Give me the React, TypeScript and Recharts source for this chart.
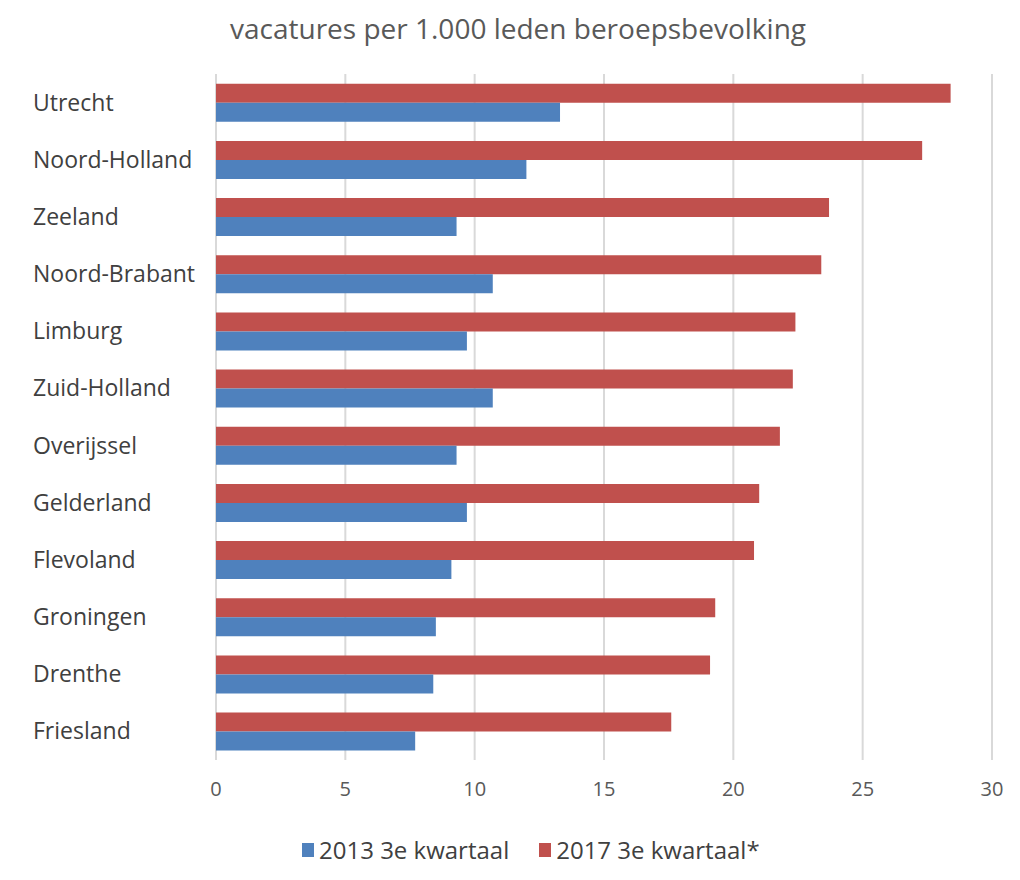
import React from 'react';
import { Bar, BarChart, CartesianGrid, Legend, XAxis, YAxis } from 'recharts';

const provinces = [
  'Utrecht',
  'Noord-Holland',
  'Zeeland',
  'Noord-Brabant',
  'Limburg',
  'Zuid-Holland',
  'Overijssel',
  'Gelderland',
  'Flevoland',
  'Groningen',
  'Drenthe',
  'Friesland',
];
const q3_2013 = [13.3, 12.0, 9.3, 10.7, 9.7, 10.7, 9.3, 9.7, 9.1, 8.5, 8.4, 7.7];
const q3_2017 = [28.4, 27.3, 23.7, 23.4, 22.4, 22.3, 21.8, 21.0, 20.8, 19.3, 19.1, 17.6];
const xTicks = [0, 5, 10, 15, 20, 25, 30];

const BLUE = '#4F81BD';
const RED = '#C0504D';
const FONT = '"Open Sans", sans-serif';

const data = provinces.map((p, i) => ({ provincie: p, v2013: q3_2013[i], v2017: q3_2017[i] }));

const legendItems = [
  { label: '2013 3e kwartaal', color: BLUE },
  { label: '2017 3e kwartaal*', color: RED },
];

const ProvinceTick = (props: any) => {
  const { y, payload } = props;
  return (
    <text x={28} y={y} dy="0.35em" textAnchor="start" fill="#404040" fontSize={23} fontFamily={FONT}>
      {payload.value}
    </text>
  );
};

const LegendContent = () => (
  <div style={{ display: 'flex', alignItems: 'center', fontFamily: FONT, fontSize: 24, color: '#404040' }}>
    {legendItems.map((it) => (
      <div key={it.label} style={{ display: 'flex', alignItems: 'center', marginRight: 30 }}>
        <span style={{ width: 12, height: 14, background: it.color, marginRight: 5, display: 'inline-block' }} />
        <span>{it.label}</span>
      </div>
    ))}
  </div>
);

export default function App() {
  return (
    <div
      style={{
        position: 'relative',
        width: 1016,
        height: 890,
        marginLeft: -4,
        marginTop: -1,
        border: '1px solid #d9d9d9',
        boxSizing: 'border-box',
        background: '#fff',
      }}
    >
      <div
        style={{
          position: 'absolute',
          top: 1,
          left: 6,
          width: 1014,
          textAlign: 'center',
          fontFamily: FONT,
          fontSize: 28,
          lineHeight: '38px',
          color: '#595959',
        }}
      >
        vacatures per 1.000 leden beroepsbevolking
      </div>
      <div style={{ position: 'absolute', left: 0, top: 0 }}>
        <BarChart
          width={1014}
          height={870}
          data={data}
          layout="vertical"
          margin={{ top: 66, right: 27, bottom: 78, left: 0 }}
          barCategoryGap="17%"
          barGap={0}
        >
          <CartesianGrid horizontal={false} stroke="#d9d9d9" strokeWidth={2} />
          <XAxis
            type="number"
            domain={[0, 30]}
            ticks={xTicks}
            axisLine={false}
            tickLine={false}
            tickMargin={16}
            height={40}
            tick={{ fill: '#595959', fontSize: 20, fontFamily: FONT }}
          />
          <YAxis
            type="category"
            dataKey="provincie"
            width={211}
            axisLine={false}
            tickLine={false}
            tick={<ProvinceTick />}
            interval={0}
          />
          <Legend
            layout="horizontal"
            verticalAlign="middle"
            content={<LegendContent />}
            wrapperStyle={{ top: 825, left: 297, width: 650 }}
          />
          <Bar dataKey="v2017" name="2017 3e kwartaal*" fill={RED} isAnimationActive={false} />
          <Bar dataKey="v2013" name="2013 3e kwartaal" fill={BLUE} isAnimationActive={false} />
        </BarChart>
      </div>
    </div>
  );
}
